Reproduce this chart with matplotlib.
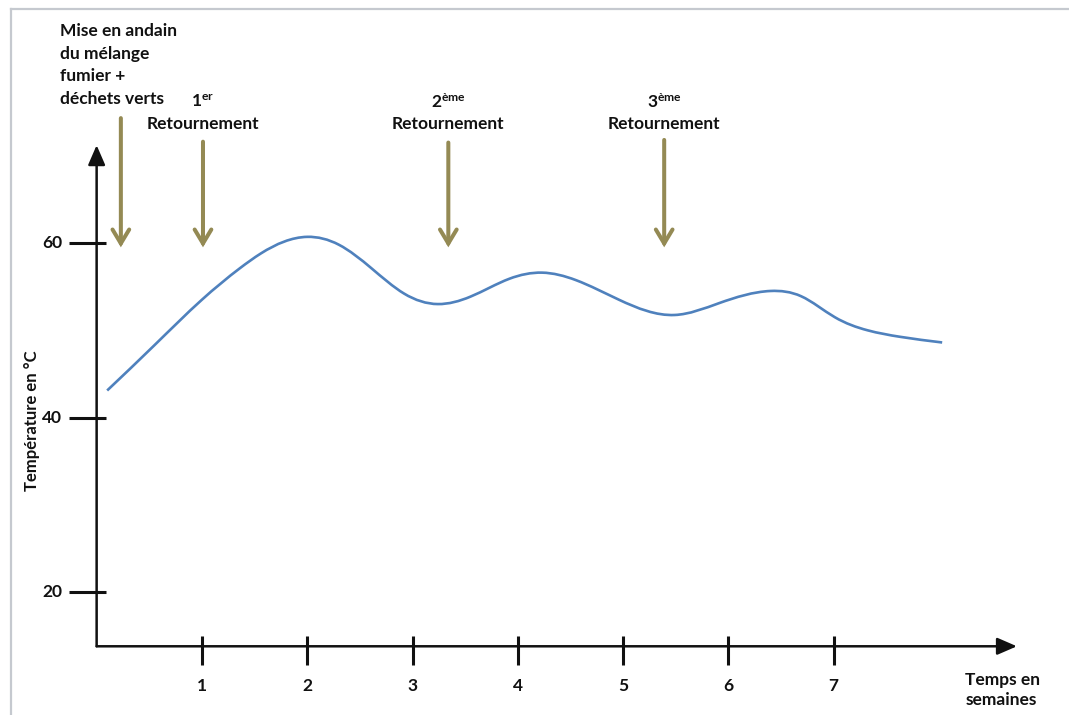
import matplotlib
matplotlib.use("Agg")
import matplotlib.pyplot as plt
import numpy as np
from matplotlib.path import Path
from matplotlib.patches import PathPatch, FancyArrowPatch
from matplotlib.lines import Line2D

plt.rcParams['font.family'] = ['Lato', 'DejaVu Sans']
plt.rcParams['mathtext.fontset'] = 'custom'
plt.rcParams['mathtext.rm'] = 'Lato:bold'
plt.rcParams['mathtext.it'] = 'Lato:bold'
plt.rcParams['mathtext.bf'] = 'Lato:bold'

# Compost windrow temperature over time
weeks = [0.10, 0.55, 1.00, 1.36, 1.56, 2.00, 2.30, 2.61, 2.92, 3.24, 3.55, 3.92,
         4.23, 4.55, 4.96, 5.49, 5.91, 6.40, 6.69, 7.01, 7.32, 7.63, 8.03]
temps = [43.1, 48.3, 53.5, 57.1, 58.8, 60.7, 59.8, 57.1, 54.2, 53.0, 53.85, 55.9,
         56.6, 55.75, 53.5, 51.75, 53.1, 54.5, 53.9, 51.5, 50.0, 49.25, 48.6]

x_ticks = [1, 2, 3, 4, 5, 6, 7]
y_ticks = [20, 40, 60]

# Events marked with arrows: week, arrow top
event_weeks = [0.23, 1.01, 3.34, 5.39]
event_tops = [74.3, 71.6, 71.5, 71.8]
event_sup = ["er", "ème", "ème"]

INK = "#111111"
OLIVE = "#948A54"
BLUE = "#4F81BD"
FS = 12.5

fig = plt.figure(figsize=(10.69, 7.15), dpi=100)
ax = fig.add_axes([0.0904, 0.0497, 0.8865, 0.8547])
ax.set_xlim(0, 9.0)
ax.set_ylim(10, 80)
ax.axis("off")

# page frame
fig.add_artist(Line2D([11 / 1069, 11 / 1069], [0, 1 - 9 / 715], color="#c5c9cf", lw=1.6))
fig.add_artist(Line2D([11 / 1069, 1], [1 - 9 / 715, 1 - 9 / 715], color="#c5c9cf", lw=1.6))

y0 = 13.8
# axes with arrowheads
for start, end in [((0, y0), (0, 71.2)), ((0, y0), (8.74, y0))]:
    ax.add_patch(FancyArrowPatch(start, end, arrowstyle="-|>,head_length=0.6,head_width=0.26",
                                 mutation_scale=20, lw=1.8, color=INK, clip_on=False,
                                 shrinkA=0, shrinkB=0))

# ticks
for t in y_ticks:
    ax.plot([-0.26, 0.09], [t, t], color=INK, lw=2.2, clip_on=False, solid_capstyle="butt")
    ax.text(-0.33, t, str(t), ha="right", va="center", fontsize=FS, fontweight="bold", color=INK)
for t in x_ticks:
    ax.plot([t, t], [y0 + 1.15, y0 - 2.2], color=INK, lw=2.2, clip_on=False, solid_capstyle="butt")
    ax.text(t, y0 - 4.5, str(t), ha="center", va="center", fontsize=FS, fontweight="bold", color=INK)

ax.text(-0.61, 39.6, "Température en °C", rotation=90, ha="center", va="center",
        fontsize=12, fontweight="bold", color=INK)
ax.text(8.25, y0 - 5.0, "Temps en\nsemaines", ha="left", va="center",
        fontsize=FS, fontweight="bold", color=INK, linespacing=1.3)

# smooth temperature curve: natural cubic spline through the readings
x = np.asarray(weeks, float)
y = np.asarray(temps, float)
n = len(x)
h = np.diff(x)
A = np.zeros((n, n))
r = np.zeros(n)
A[0, 0] = A[-1, -1] = 1.0
for i in range(1, n - 1):
    A[i, i - 1] = h[i - 1]
    A[i, i] = 2 * (h[i - 1] + h[i])
    A[i, i + 1] = h[i]
    r[i] = 6 * ((y[i + 1] - y[i]) / h[i] - (y[i] - y[i - 1]) / h[i - 1])
M = np.linalg.solve(A, r)
slope = np.empty(n)
for i in range(n - 1):
    slope[i] = (y[i + 1] - y[i]) / h[i] - h[i] * (2 * M[i] + M[i + 1]) / 6
slope[-1] = (y[-1] - y[-2]) / h[-1] + h[-1] * (M[-2] + 2 * M[-1]) / 6

verts = [(x[0], y[0])]
codes = [Path.MOVETO]
for i in range(n - 1):
    verts += [(x[i] + h[i] / 3, y[i] + slope[i] * h[i] / 3),
              (x[i + 1] - h[i] / 3, y[i + 1] - slope[i + 1] * h[i] / 3),
              (x[i + 1], y[i + 1])]
    codes += [Path.CURVE4] * 3
ax.add_patch(PathPatch(Path(verts, codes), fill=False, edgecolor=BLUE, lw=1.9, clip_on=False))

# event arrows
for wk, top in zip(event_weeks, event_tops):
    ax.add_patch(FancyArrowPatch((wk, top), (wk, 59.5), arrowstyle="->,head_length=0.5,head_width=0.3",
                                 mutation_scale=20, lw=2.9, color=OLIVE, clip_on=False,
                                 shrinkA=0, shrinkB=0, joinstyle="miter"))

ax.text(-0.35, 85.2, "Mise en andain\ndu mélange\nfumier +\ndéchets verts", ha="left", va="top",
        fontsize=FS, fontweight="bold", color=INK, linespacing=1.52)

for i, (wk, sup) in enumerate(zip(event_weeks[1:], event_sup)):
    ax.text(wk, 76.2, f"{i + 1}$^{{\\mathrm{{{sup}}}}}$", ha="center", va="center",
            fontsize=FS, fontweight="bold", color=INK)
    ax.text(wk, 73.6, "Retournement", ha="center", va="center",
            fontsize=FS, fontweight="bold", color=INK)

fig.savefig("out.png", dpi=100, facecolor="white")
